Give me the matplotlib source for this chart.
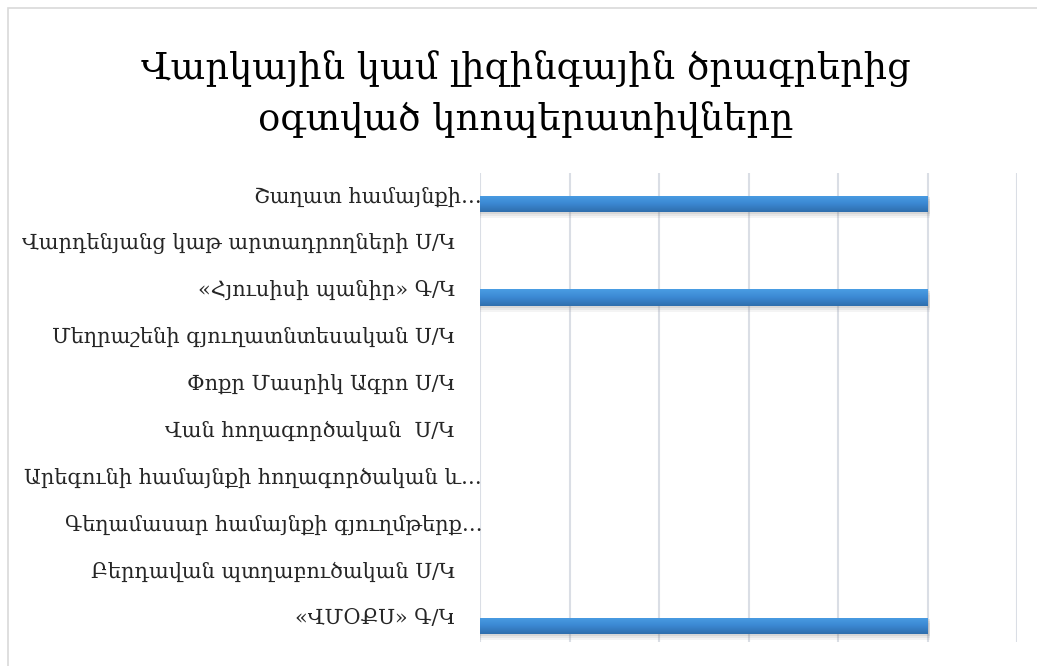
import numpy as np
import matplotlib.pyplot as plt
from matplotlib.patches import Rectangle
from matplotlib.colors import LinearSegmentedColormap
import matplotlib.transforms as mtransforms

# Dati (dall'alto verso il basso)
categorie = [
    "Շաղատ համայնքի…",
    "Վարդենյանց կաթ արտադրողների Ս/Կ",
    "«Հյուսիսի պանիր» Գ/Կ",
    "Մեղրաշենի գյուղատնտեսական Ս/Կ",
    "Փոքր Մասրիկ Ագրո Ս/Կ",
    "Վան հողագործական  Ս/Կ",
    "Արեգունի համայնքի հողագործական և…",
    "Գեղամասար համայնքի գյուղմթերք…",
    "Բերդավան պտղաբուծական Ս/Կ",
    "«ՎՄՕՔՍ» Գ/Կ",
]
valori = [1, 0, 1, 0, 0, 0, 0, 0, 0, 1]
titolo = "Վարկային կամ լիզինգային ծրագրերից\nօգտված կոոպերատիվները"

plt.rcParams['font.family'] = ['DejaVu Serif', 'DejaVu Sans']

fig = plt.figure(figsize=(10.37, 6.66), dpi=100)
# area del grafico: x 480-1017 px, y 173-642 px
ax = fig.add_axes([480 / 1037, 1 - 642 / 666, 537 / 1037, 469 / 666])

y = np.arange(len(categorie))
h = 0.36
dy = 0.16   # in Excel le barre risultano un po' sotto il centro della categoria

# Gradiente blu per le barre
grad = np.linspace(0, 1, 64).reshape(-1, 1)
cmap = LinearSegmentedColormap.from_list('barra', ['#4a9de3', '#3b88d2', '#2f6ead'])

for yi, v in zip(y, valori):
    if v <= 0:
        continue
    yc = yi + dy
    # ombra
    for k, a in zip([0.12, 0.08, 0.04], [0.08, 0.10, 0.14]):
        ax.add_patch(Rectangle((0, yc - h / 2 + k), v + 0.006, h, color='#777777',
                               alpha=a, lw=0, zorder=2))
    r = Rectangle((0, yc - h / 2), v, h, lw=0, facecolor='none', zorder=3)
    ax.add_patch(r)
    im = ax.imshow(grad, cmap=cmap, aspect='auto', extent=(0, v, yc + h / 2, yc - h / 2),
                   zorder=3)
    im.set_clip_path(r)

ax.set_xlim(0, 1.2)
ax.set_ylim(len(categorie) - 0.5, -0.5)
ax.set_xticks(np.arange(0, 1.21, 0.2))
ax.set_xticklabels([])
ax.set_yticks([])
ax.tick_params(length=0)
ax.grid(axis='x', color='#dadee5', lw=1.5)
ax.set_axisbelow(True)
for s in ax.spines.values():
    s.set_visible(False)

# Etichette delle categorie (quelle troncate arrivano fino all'asse)
trans = mtransforms.blended_transform_factory(ax.transAxes, ax.transData)
for yi, lab in zip(y, categorie):
    off = 0.004 if lab.endswith('…') else -0.046
    ax.text(off, yi, lab, transform=trans, ha='right', va='center',
            fontsize=15, color='#262626')

fig.text(0.507, 1 - 94 / 666, titolo, ha='center', va='center', fontsize=26.5,
         linespacing=1.5, color='black')

# Cornice del grafico (i lati destro e inferiore escono dall'immagine)
fig.patches.append(Rectangle((8 / 1037, -0.05), 1.1, 1 - 8 / 666 + 0.05,
                             transform=fig.transFigure, fill=False,
                             edgecolor='#d9d9d9', lw=1.2))

fig.savefig('out.png', dpi=100)
